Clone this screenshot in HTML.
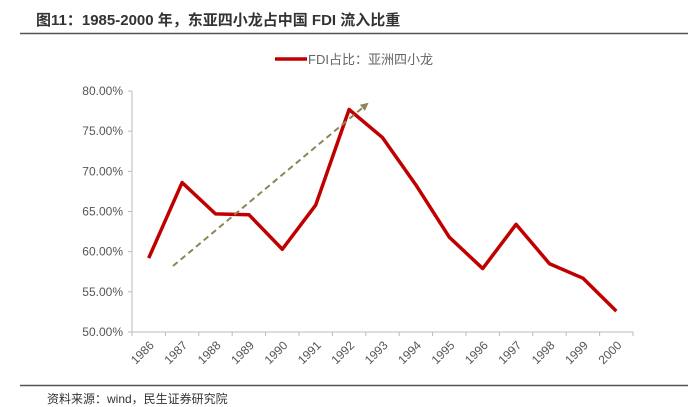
<!DOCTYPE html>
<html><head><meta charset="utf-8"><style>
body{margin:0;width:688px;height:407px;background:#fff;overflow:hidden;font-family:"Liberation Sans","Noto Sans CJK SC",sans-serif;}
</style></head><body>
<svg width="688" height="407" style="position:absolute;left:0;top:0">
<text x="36" y="25" font-size="15" font-weight="bold" fill="#333" font-family="Liberation Sans, Noto Sans CJK SC, sans-serif">图11：1985-2000 年，东亚四小龙占中国 FDI 流入比重</text>
<line x1="20" y1="33.5" x2="688" y2="33.5" stroke="#555" stroke-width="1.5"/>
<g>
<line x1="275" y1="59" x2="307" y2="59" stroke="#c00000" stroke-width="3.5"/>
<text x="308" y="64" font-size="13" fill="#666" font-family="Liberation Sans, Noto Sans CJK SC, sans-serif">FDI占比：亚洲四小龙</text>
</g>
<g id="axes"></g>
<g id="marks"></g>
<line x1="20" y1="385.5" x2="688" y2="385.5" stroke="#555" stroke-width="1.5"/>
<text x="47" y="403" font-size="12" fill="#333" font-family="Liberation Sans, Noto Sans CJK SC, sans-serif">资料来源：wind，民生证券研究院</text>
</svg>
<script>
const categories=["1986","1987","1988","1989","1990","1991","1992","1993","1994","1995","1996","1997","1998","1999","2000"];
const values=[59.2,68.6,64.7,64.6,60.3,65.8,77.7,74.2,68.3,61.8,57.9,63.4,58.5,56.7,52.6];
const yTicks=[50,55,60,65,70,75,80];
const NS="http://www.w3.org/2000/svg";
const x0=132,x1=633,yTop=91,yBot=332,yMin=50,yMax=80;
const bw=(x1-x0)/categories.length;
const xs=i=>x0+bw*(i+0.5);
const ys=v=>yBot-(v-yMin)/(yMax-yMin)*(yBot-yTop);
const axes=document.getElementById('axes'),marks=document.getElementById('marks');
function mk(t,a,p){const e=document.createElementNS(NS,t);for(const k in a)e.setAttribute(k,a[k]);p.appendChild(e);return e;}
const ya=mk('line',{x1:x0,y1:yTop,x2:x0,y2:yBot,stroke:'#bbb'},axes);


const xa=mk('line',{x1:x0,y1:yBot,x2:x1,y2:yBot,stroke:'#bbb'},axes);


yTicks.forEach(v=>{
 const tk=mk('line',{x1:x0-4,y1:ys(v),x2:x0,y2:ys(v),stroke:'#bbb'},axes);
 
 
 const t=mk('text',{x:x0-9,y:ys(v)+4,'font-size':12,fill:'#555','text-anchor':'end'},axes);
 t.textContent=v.toFixed(2)+'%';
 
 
});
for(let i=0;i<=categories.length;i++){
 const tk=mk('line',{x1:x0+bw*i,y1:yBot,x2:x0+bw*i,y2:yBot+4,stroke:'#bbb'},axes);
 
 
}
categories.forEach((c,i)=>{
 const x=xs(i)+6,y=yBot+14;
 const t=mk('text',{x:x,y:y,'font-size':12,fill:'#555','text-anchor':'end',transform:`rotate(-45 ${x} ${y})`},axes);
 t.textContent=c;
 
 
});
const line=mk('polyline',{points:values.map((v,i)=>xs(i)+','+ys(v)).join(' '),fill:'none',stroke:'#c00000','stroke-width':3.5,'stroke-linejoin':'round'},marks);


const defs=mk('defs',{},marks);
const m=mk('marker',{id:'ah',markerWidth:8,markerHeight:8,refX:6,refY:4,orient:'auto',markerUnits:'userSpaceOnUse'},defs);
mk('path',{d:'M0,0 L8,4 L0,8 Z',fill:'#8c8656'},m);
const ar=mk('line',{x1:173,y1:266,x2:367,y2:104,stroke:'#8c8656','stroke-width':2,'stroke-dasharray':'6,4','marker-end':'url(#ah)'},marks);


</script>
</body></html>
